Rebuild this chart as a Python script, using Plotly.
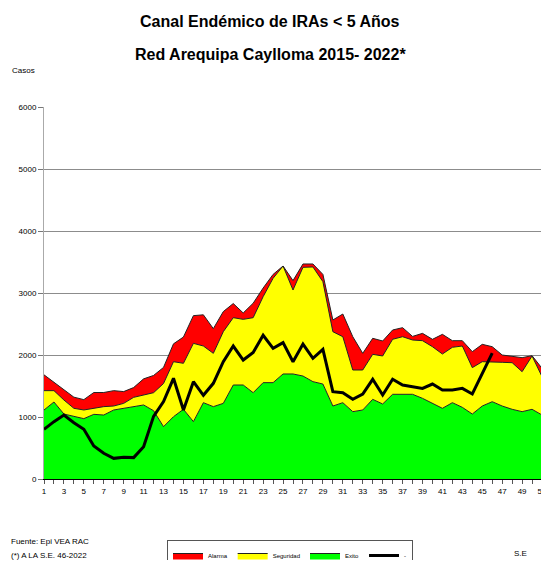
import plotly.graph_objects as go

# semanas epidemiologicas
weeks = list(range(1, 53))
tick_labels = [str(w) if w % 2 == 1 else "" for w in weeks]

# limites superiores de cada zona del canal endemico
alarma = [1680, 1560, 1440, 1320, 1280, 1395, 1395, 1425, 1410, 1475,
          1615, 1670, 1800, 2180, 2290, 2635, 2648, 2425, 2700, 2830,
          2678, 2835, 3080, 3300, 3435, 3200, 3468, 3468, 3300, 2565,
          2661, 2295, 2027, 2269, 2226, 2403, 2441, 2300, 2349, 2253,
          2333, 2231, 2231, 2054, 2172, 2134, 2000, 1973, 1957, 1989,
          1785, 1650]
seguridad = [1425, 1425, 1274, 1140, 1113, 1140, 1167, 1177, 1220, 1317,
             1355, 1392, 1540, 1892, 1866, 2188, 2145, 2027, 2376, 2602,
             2575, 2602, 2941, 3237, 3435, 3048, 3414, 3420, 3183, 2376,
             2295, 1758, 1758, 2011, 1984, 2253, 2295, 2242, 2231, 2134,
             2016, 2124, 2145, 1796, 1892, 1882, 1882, 1876, 1731, 1984,
             1650, 1540]
exito = [1113, 1242, 1048, 1016, 973, 1043, 1032, 1113, 1140, 1177,
         1194, 1102, 844, 1005, 1124, 925, 1231, 1167, 1220, 1516,
         1516, 1392, 1554, 1554, 1694, 1694, 1661, 1570, 1532, 1177,
         1231, 1086, 1113, 1285, 1210, 1366, 1371, 1366, 1301, 1220,
         1140, 1231, 1156, 1048, 1177, 1247, 1177, 1124, 1086, 1124,
         1032, 1010]

# casos 2022 hasta la S.E. 46
weeks_2022 = list(range(1, 47))
casos_2022 = [801, 925, 1032, 908, 801, 532, 414, 333, 350, 345,
              521, 1010, 1250, 1624, 1113, 1570, 1350, 1543, 1892, 2145,
              1919, 2040, 2318, 2108, 2200, 1892, 2177, 1946, 2092, 1409,
              1392, 1285, 1371, 1608, 1355, 1608, 1516, 1490, 1462, 1532,
              1435, 1435, 1462, 1371, 1700, 2030]

FONT = "Liberation Sans Narrow, Arial Narrow, Liberation Sans, Arial, sans-serif"
edge = dict(color="#222222", width=1)

fig = go.Figure()
fig.add_trace(go.Scatter(x=weeks, y=exito, name="Exito", mode="lines",
                         line=edge, fill="tozeroy", fillcolor="#00FF00",
                         legendrank=3))
fig.add_trace(go.Scatter(x=weeks, y=seguridad, name="Seguridad", mode="lines",
                         line=edge, fill="tonexty", fillcolor="#FFFF00",
                         legendrank=2))
fig.add_trace(go.Scatter(x=weeks, y=alarma, name="Alarma", mode="lines",
                         line=edge, fill="tonexty", fillcolor="#FF0000",
                         legendrank=1))
fig.add_trace(go.Scatter(x=weeks_2022, y=casos_2022, name="-", mode="lines",
                         line=dict(color="black", width=3), legendrank=4))

# la pagina deja 8px de margen del body, se compensa aqui
OFF = 8
W, H = 549 - OFF, 568 - 2 * OFF
PLOT_L, PLOT_TOP, PLOT_BOT = 44 - OFF, 107 - OFF, 479 - OFF


def py(px):
    # pixel vertical de pantalla -> coordenada paper
    return (PLOT_BOT - (px - OFF)) / (PLOT_BOT - PLOT_TOP)


def pxx(px):
    return ((px - OFF) - PLOT_L) / (W - PLOT_L)


annots = [
    dict(text="<b>Canal Endémico de IRAs < 5 Años</b>", x=pxx(270), y=py(21),
         font=dict(size=16)),
    dict(text="<b>Red Arequipa Caylloma 2015- 2022*</b>", x=pxx(270), y=py(55),
         font=dict(size=16)),
    dict(text="Casos", x=pxx(10), y=py(70), xanchor="left", font=dict(size=8)),
    dict(text="Fuente: Epi VEA RAC", x=pxx(9), y=py(541), xanchor="left",
         font=dict(size=8)),
    dict(text="(*) A LA S.E. 46-2022", x=pxx(9), y=py(555), xanchor="left",
         font=dict(size=8)),
    dict(text="S.E", x=pxx(520), y=py(553), font=dict(size=8)),
]
for a in annots:
    a.update(xref="paper", yref="paper", showarrow=False, yanchor="middle",
             font=dict(family=FONT, color="black", size=a["font"]["size"]))
    a.setdefault("xanchor", "center")

fig.update_layout(
    width=W, height=H,
    margin=dict(l=PLOT_L, r=0, t=PLOT_TOP, b=H - PLOT_BOT, autoexpand=False),
    paper_bgcolor="white", plot_bgcolor="white",
    font=dict(family=FONT, color="black", size=8),
    annotations=annots,
    showlegend=True,
    legend=dict(orientation="h", traceorder="normal", x=pxx(290),
                xanchor="center", y=py(540), yanchor="top",
                bordercolor="#555555", borderwidth=1,
                font=dict(size=6, family=FONT),
                itemwidth=30, bgcolor="white", tracegroupgap=0),
    xaxis=dict(range=[1, 51.7], tickvals=weeks, ticktext=tick_labels,
               ticks="outside", ticklen=4, tickcolor="#555555",
               showgrid=False, showline=True, linecolor="black", linewidth=1,
               zeroline=False, tickfont=dict(size=8)),
    yaxis=dict(range=[0, 6000], tickvals=[0, 1000, 2000, 3000, 4000, 5000, 6000],
               ticks="outside", ticklen=5, tickcolor="#777777",
               showgrid=True, gridcolor="#8c8c8c", gridwidth=1.2,
               showline=True, linecolor="#aaaaaa", zeroline=False,
               tickfont=dict(size=8)),
)

fig.write_html("out.html")
